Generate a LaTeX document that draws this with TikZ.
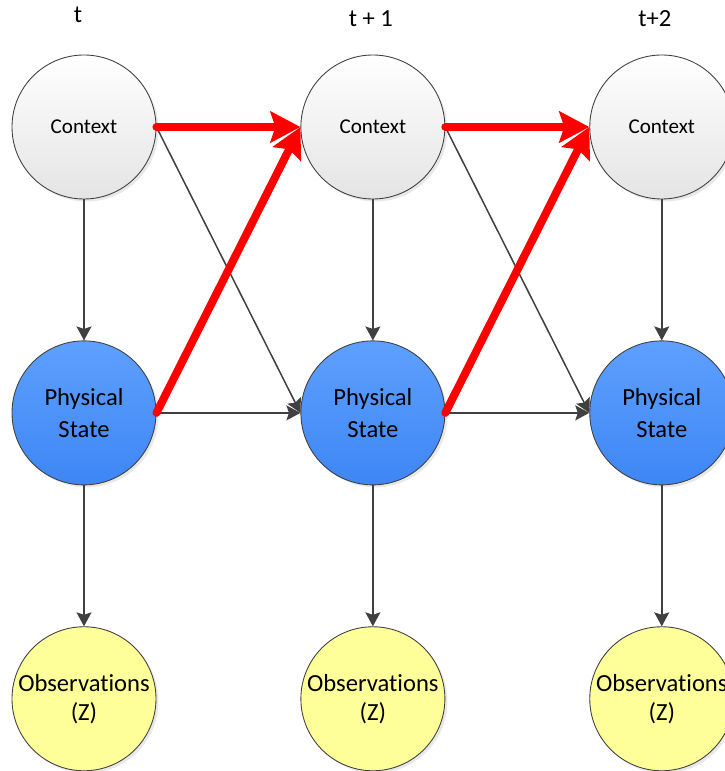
\documentclass[tikz,border=0pt]{standalone}
\usepackage{fontspec}
\setmainfont[Ligatures={NoCommon}]{Carlito}
\usepackage{xcolor}
\usepackage{tikz}
\usetikzlibrary{positioning, arrows.meta, calc, shadows}

\definecolor{ctxtop}{HTML}{FFFFFF}
\definecolor{ctxbot}{HTML}{E4E4E4}
\definecolor{phytop}{HTML}{5EA0FF}
\definecolor{phybot}{HTML}{3E86F4}
\definecolor{obsfill}{HTML}{FFFF99}
\definecolor{linegray}{HTML}{404040}

\begin{document}
\begin{tikzpicture}[
    node distance=2.82cm and 2.88cm,
    circ/.style={circle, draw=linegray, line width=0.5pt, minimum size=2.88cm, inner sep=0pt, align=center,
        drop shadow={opacity=0.18, shadow xshift=0.05cm, shadow yshift=-0.05cm}},
    ctx/.style={circ, top color=ctxtop, bottom color=ctxbot, font=\fontsize{12}{14}\selectfont},
    phy/.style={circ, top color=phytop, bottom color=phybot, font=\fontsize{14}{18}\selectfont},
    obs/.style={circ, fill=obsfill, font=\fontsize{14}{16.5}\selectfont},
    tlabel/.style={anchor=base, font=\fontsize{14}{16}\selectfont},
    arrow/.style={-{Stealth[length=0.28cm, width=0.3cm, inset=0.05cm]}, draw=linegray, line width=0.03cm},
    redarrow/.style={-{Stealth[length=0.6cm, width=0.62cm, inset=0.1cm]}, draw=red, line width=0.16cm, line cap=round}
]
    % page size (first context node sits at the origin)
    \useasboundingbox (-1.68,2.54) rectangle (12.82,-12.88);

    % Context row
    \node[ctx] (ctx1) at (0,0) {Context};
    \node[ctx, right=of ctx1] (ctx2) {Context};
    \node[ctx, right=of ctx2] (ctx3) {Context};

    % Physical state row
    \node[phy, below=of ctx1] (phy1) {Physical\\State};
    \node[phy, below=of ctx2] (phy2) {Physical\\State};
    \node[phy, below=of ctx3] (phy3) {Physical\\State};

    % Observations row
    \node[obs, below=of phy1] (obs1) {Observations\\(Z)};
    \node[obs, below=of phy2] (obs2) {Observations\\(Z)};
    \node[obs, below=of phy3] (obs3) {Observations\\(Z)};

    % time labels
    \node[tlabel, above=0.64cm of ctx1.north, anchor=base, xshift=-0.12cm] (lt0) {t};
    \node[tlabel, above=0.56cm of ctx2.north, anchor=base, xshift=-0.04cm] (lt1) {t + 1};
    \node[tlabel, above=0.56cm of ctx3.north, anchor=base, xshift=-0.14cm] (lt2) {t+2};

    % vertical arrows
    \foreach \i in {1,2,3} {
        \draw[arrow] (ctx\i) -- (phy\i);
        \draw[arrow] (phy\i) -- (obs\i);
    }

    % arrows to next step
    \foreach \i/\j in {1/2,2/3} {
        \draw[arrow] (ctx\i.east) -- (phy\j.west);
        \draw[arrow] (phy\i) -- (phy\j);
        \draw[redarrow] (ctx\i.east) -- (ctx\j.west);
        \draw[redarrow] (phy\i.east) -- (ctx\j.west);
    }
\end{tikzpicture}
\end{document}
